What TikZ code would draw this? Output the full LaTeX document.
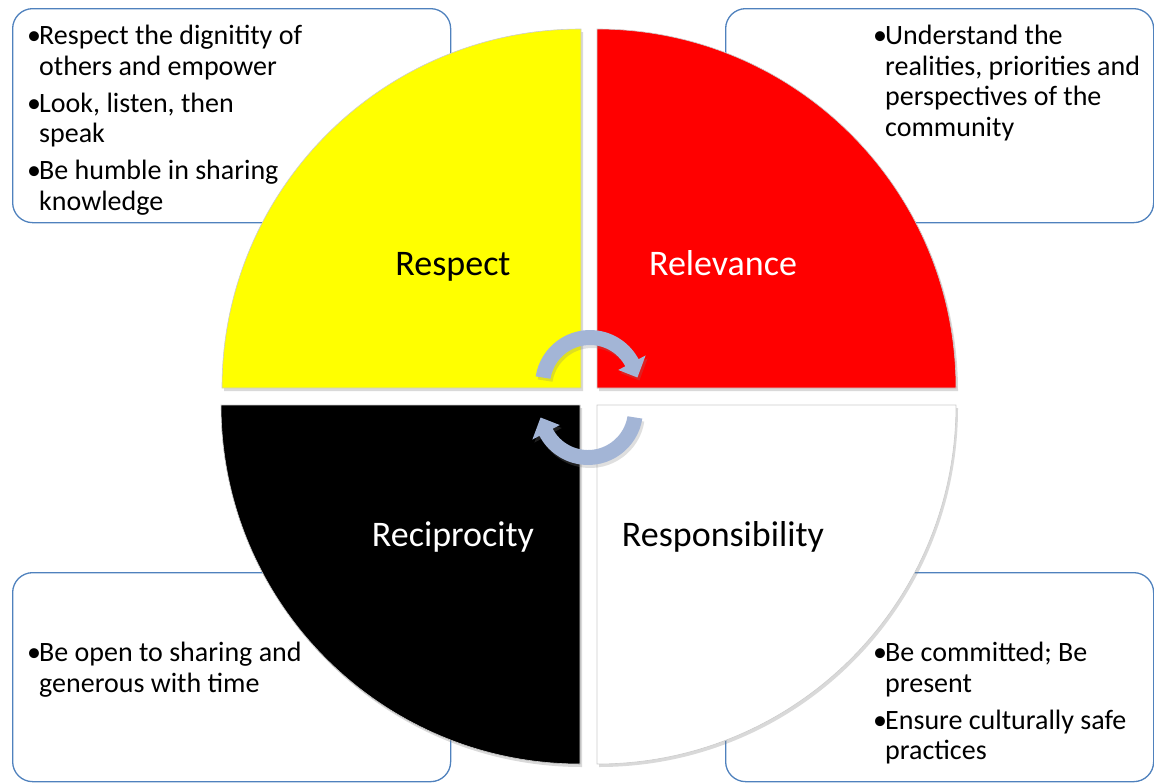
\documentclass[tikz,border=0pt]{standalone}
\usepackage{fontspec}
\setmainfont{Carlito}
\usetikzlibrary{shadows}

\definecolor{boxblue}{RGB}{79,129,189}
\definecolor{arrowblue}{RGB}{163,181,214}
\definecolor{quadyellow}{RGB}{255,255,0}
\definecolor{quadred}{RGB}{255,0,0}

% bullet with hanging indent
\newcommand{\bul}{\makebox[12pt][l]{\textbullet}}
\newcommand{\ind}{\hspace*{12pt}}

\begin{document}
\begin{tikzpicture}[x=1pt, y=1pt,
    notebox/.style={draw=boxblue, line width=1.3pt, rounded corners=20pt, anchor=north west, inner sep=0pt},
    notetext/.style={inner sep=0pt, align=left, anchor=north west, font=\fontsize{28}{30.5}\selectfont},
    quad/.style={draw=black!20, line width=0.6pt, drop shadow={shadow xshift=2pt, shadow yshift=-3pt, opacity=0.3}},
    quadlabel/.style={anchor=base, inner sep=0pt, font=\fontsize{36}{40}\selectfont},
    cyclearrow/.style={fill=arrowblue, drop shadow={shadow xshift=2pt, shadow yshift=-3pt, opacity=0.25}}]
    \useasboundingbox (0,0) rectangle (1154,-782);

    % the four note boxes
    \node (tlbox) [notebox, minimum width=438pt, minimum height=214pt] at (12,-8) {};
    \node (trbox) [notebox, minimum width=428pt, minimum height=214pt] at (725,-8) {};
    \node (blbox) [notebox, minimum width=438pt, minimum height=209pt] at (12,-572) {};
    \node (brbox) [notebox, minimum width=428pt, minimum height=209pt] at (725,-572) {};

    % quarter circles
    \path[quad, fill=quadyellow] (581,-388) -- (222,-388) arc[start angle=180, end angle=90, radius=359] -- cycle;
    \path[quad, fill=quadred] (597,-388) -- (597,-29) arc[start angle=90, end angle=0, radius=359] -- cycle;
    \path[quad, fill=black] (580,-405) -- (221,-405) arc[start angle=180, end angle=270, radius=359] -- cycle;
    \path[quad, fill=white] (597,-405) -- (956,-405) arc[start angle=0, end angle=-90, radius=359] -- cycle;

    \node (respect) [quadlabel] at (453,-275) {Respect};
    \node (relevance) [quadlabel, text=white] at (723,-275) {Relevance};
    \node (reciprocity) [quadlabel, text=white] at (453,-546) {Reciprocity};
    \node (responsibility) [quadlabel] at (723,-546) {Responsibility};

    % the two turning arrows in the middle
    \begin{scope}[shift={(590,-385)}]
      \path[cyclearrow] (171:55) arc[start angle=171, end angle=28, radius=55] -- (28:63)
        -- (9:48) -- (28:32) -- (28:40) arc[start angle=28, end angle=171, radius=40] -- cycle;
    \end{scope}
    \begin{scope}[shift={(588,-410)}, rotate=180]
      \path[cyclearrow] (171:55) arc[start angle=171, end angle=28, radius=55] -- (28:63)
        -- (9:48) -- (28:32) -- (28:40) arc[start angle=28, end angle=171, radius=40] -- cycle;
    \end{scope}

    % bullet texts
    \node (tltext) [notetext] at (27,-25) {\bul Respect the dignitity of\\\ind others and empower\\[6.5pt]\bul Look, listen, then\\\ind speak\\[6.5pt]\bul Be humble in sharing\\\ind knowledge};
    \node (trtext) [notetext] at (873,-25) {\bul Understand the\\\ind realities, priorities and\\\ind perspectives of the\\\ind community};
    \node (bltext) [notetext] at (27,-642) {\bul Be open to sharing and\\\ind generous with time};
    \node (brtext) [notetext] at (873,-642) {\bul Be committed; Be\\\ind present\\[6.5pt]\bul Ensure culturally safe\\\ind practices};
\end{tikzpicture}
\end{document}
